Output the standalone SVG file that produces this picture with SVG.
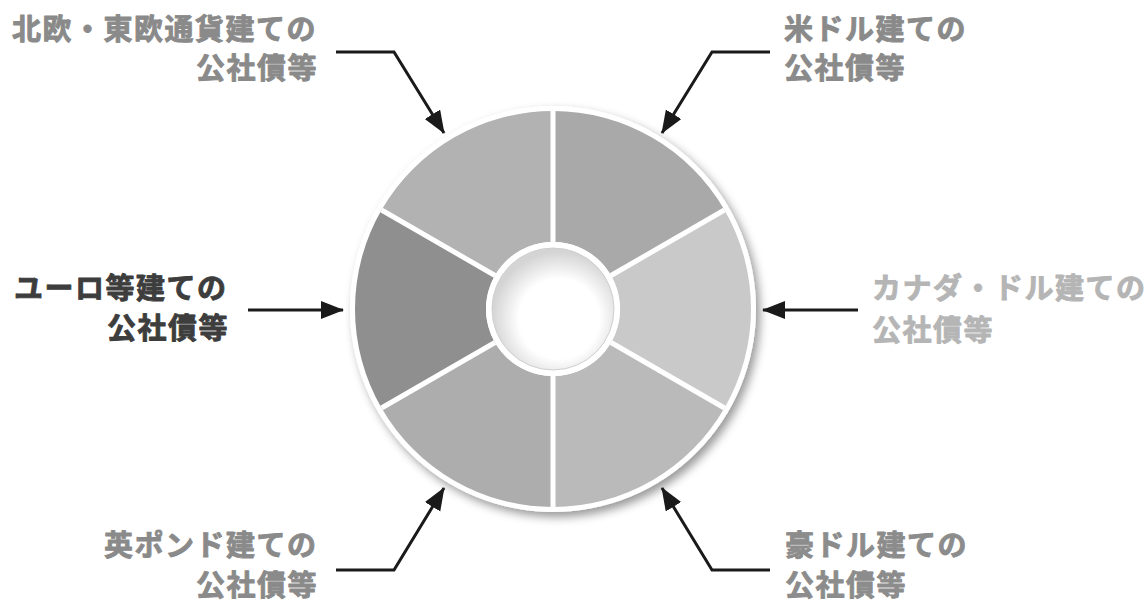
<svg xmlns="http://www.w3.org/2000/svg" width="1147" height="604" viewBox="0 0 1147 604">
<style>
.lbl{font-family:"Noto Sans CJK JP","Noto Sans CJK SC",sans-serif;font-weight:700;font-size:29px;letter-spacing:1.5px;stroke-width:0.9px;stroke-linejoin:round}
.arr{fill:none;stroke:#1a1a1a;stroke-width:3;marker-end:url(#ah)}
.div{stroke:#ffffff;stroke-width:5}
</style>
<defs>
<marker id="ah" markerUnits="userSpaceOnUse" markerWidth="24" markerHeight="20" refX="22" refY="9" orient="auto">
<path d="M0,0 L23,9 L0,18 Z" fill="#1a1a1a"/>
</marker>
<filter id="sh" x="-20%" y="-20%" width="140%" height="140%">
<feDropShadow dx="4" dy="5" stdDeviation="5" flood-color="#000" flood-opacity="0.4"/>
</filter>
<radialGradient id="hole" cx="0.55" cy="0.58" r="0.55">
<stop offset="0.6" stop-color="#ffffff"/>
<stop offset="1" stop-color="#d4d4d4"/>
</radialGradient>
</defs>
<rect width="1147" height="604" fill="#ffffff"/>
<g id="donut">
<circle cx="553" cy="309" r="203" fill="#ffffff" filter="url(#sh)"/>
<path d="M553,111 A198,198 0 0 1 724.47,210 L611.02,275.5 A67,67 0 0 0 553,242 Z" fill="#a9a9a9"/>
<path d="M724.47,210 A198,198 0 0 1 724.47,408 L611.02,342.5 A67,67 0 0 0 611.02,275.5 Z" fill="#c9c9c9"/>
<path d="M724.47,408 A198,198 0 0 1 553,507 L553,376 A67,67 0 0 0 611.02,342.5 Z" fill="#bababa"/>
<path d="M553,507 A198,198 0 0 1 381.53,408 L494.98,342.5 A67,67 0 0 0 553,376 Z" fill="#adadad"/>
<path d="M381.53,408 A198,198 0 0 1 381.53,210 L494.98,275.5 A67,67 0 0 0 494.98,342.5 Z" fill="#8f8f8f"/>
<path d="M381.53,210 A198,198 0 0 1 553,111 L553,242 A67,67 0 0 0 494.98,275.5 Z" fill="#b2b2b2"/>
<line class="div" x1="553" y1="242" x2="553" y2="111"/>
<line class="div" x1="611.02" y1="275.5" x2="724.47" y2="210"/>
<line class="div" x1="611.02" y1="342.5" x2="724.47" y2="408"/>
<line class="div" x1="553" y1="376" x2="553" y2="507"/>
<line class="div" x1="494.98" y1="342.5" x2="381.53" y2="408"/>
<line class="div" x1="494.98" y1="275.5" x2="381.53" y2="210"/>
<circle cx="553" cy="309" r="67" fill="#ffffff"/>
<circle cx="553" cy="309" r="61" fill="url(#hole)" stroke="#cfcfcf" stroke-width="1"/>
</g>
<g id="connectors">
<polyline class="arr" points="336,52 394,52 444,133"/>
<polyline class="arr" points="770,52 712,52 662,133"/>
<polyline class="arr" points="248,310 343,310"/>
<polyline class="arr" points="858,310 763,310"/>
<polyline class="arr" points="336,570 394,570 444,488"/>
<polyline class="arr" points="770,570 712,570 662,488"/>
</g>
<g id="label-nordic" class="lbl" fill="#8a8a8a" stroke="#8a8a8a">
<text x="12" y="40">北欧・東欧通貨建ての</text>
<text x="196" y="79">公社債等</text>
</g>
<g id="label-usd" class="lbl" fill="#8a8a8a" stroke="#8a8a8a">
<text x="784" y="40">米ドル建ての</text>
<text x="784" y="79">公社債等</text>
</g>
<g id="label-euro" class="lbl" fill="#3d3d3d" stroke="#3d3d3d">
<text x="14" y="299">ユーロ等建ての</text>
<text x="107" y="339">公社債等</text>
</g>
<g id="label-cad" class="lbl" fill="#b5b5b5" stroke="#b5b5b5">
<text x="872" y="299">カナダ・ドル建ての</text>
<text x="872" y="341">公社債等</text>
</g>
<g id="label-gbp" class="lbl" fill="#8a8a8a" stroke="#8a8a8a">
<text x="104" y="556">英ポンド建ての</text>
<text x="196" y="596">公社債等</text>
</g>
<g id="label-aud" class="lbl" fill="#8c8c8c" stroke="#8c8c8c">
<text x="785" y="556">豪ドル建ての</text>
<text x="785" y="596">公社債等</text>
</g>
</svg>
